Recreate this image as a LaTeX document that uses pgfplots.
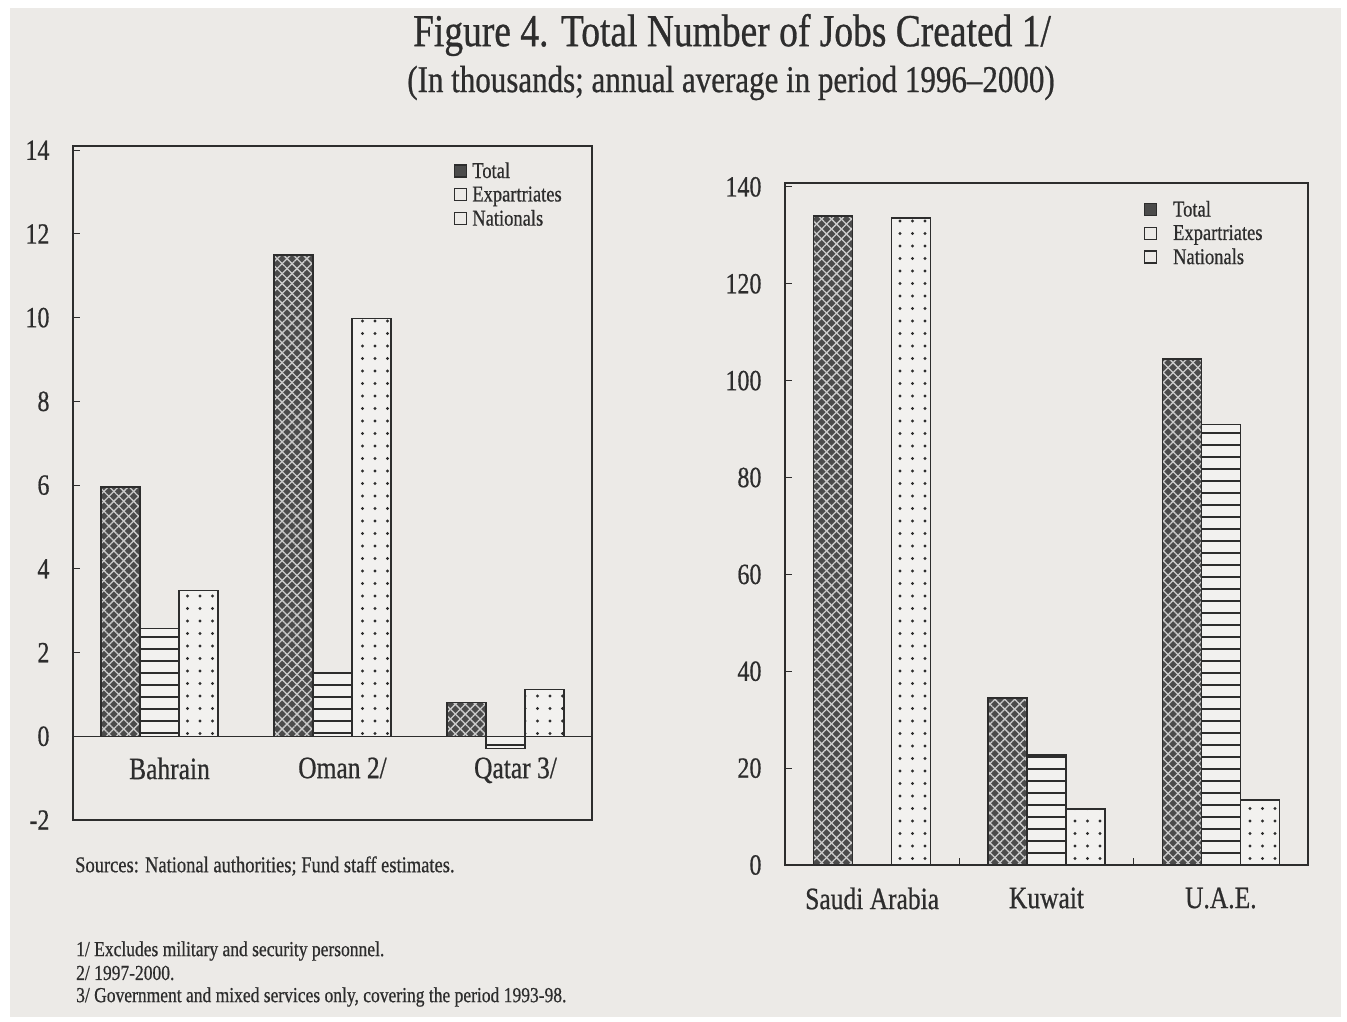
\documentclass[border=0pt]{standalone}
\usepackage{pgfplots}
\pgfplotsset{compat=1.18}
\usepackage{fontspec}
\setmainfont{Liberation Serif}[UprightFeatures={FakeBold=0.7}]
\usetikzlibrary{patterns.meta}
\usepackage{graphicx}

\definecolor{paper}{RGB}{236,234,231}
\definecolor{ink}{RGB}{45,45,45}
\definecolor{totfill}{RGB}{75,75,75}
\definecolor{barbg}{RGB}{242,241,239}

\newcommand{\vs}[1]{\scalebox{1}[1.22]{#1}}
\makeatletter
\tikzset{nopost/.code={\def\tikz@postactions{}}}
\makeatother

\pgfplotsset{
  totstyle/.style={fill=totfill, draw=ink, line width=1.4pt,
    postaction={pattern={Lines[angle=45,distance=7pt,line width=1.3pt]}, pattern color=black!20},
    postaction={pattern={Lines[angle=-45,distance=7pt,line width=1.3pt]}, pattern color=black!20},
    /tikz/legsq/.style={fill=totfill}},
  expstyle/.style={fill=barbg, draw=ink, line width=1.4pt,
    postaction={pattern={Lines[angle=0,distance=12pt,line width=2.4pt]}, pattern color=ink},
    /tikz/legsq/.style={fill=none}},
  natstyle/.style={fill=barbg, draw=ink, line width=1.4pt,
    postaction={pattern={Dots[distance=12.5pt,radius=1.6pt]}, pattern color=ink},
    /tikz/legsq/.style={fill=none}},
  commonax/.style={
    scale only axis, anchor=south west,
    ybar=0pt, bar width=39pt,
    every axis plot post/.append style={
      legend image code/.code={\draw[nopost,legsq,draw=ink,line width=1.3pt] (0pt,-6pt) rectangle (12pt,6pt);}},
    xmin=-0.5, xmax=2.5,
    axis line style={draw=ink, line width=1.8pt},
    tick align=inside, ytick pos=left, xtick pos=bottom,
    major tick length=7pt, minor tick length=7pt,
    major y tick style={draw=ink, line width=1pt},
    major x tick style={draw=none},
    minor x tick style={draw=ink, line width=1pt},
    yticklabel={\vs{\pgfmathprintnumber[assume math mode=true]{\tick}}},
    yticklabel style={font=\fontsize{24}{24}\selectfont, text=ink, xshift=-20pt},
    xtick={0,1,2},
    xticklabel style={font=\fontsize{25.5}{25.5}\selectfont, text=ink},
    legend style={draw=none, fill=none, font=\fontsize{18.5}{18.5}\selectfont, text=ink,
      anchor=north west, row sep=3pt, cells={anchor=west}},
    legend cell align=left,
  },
}

\begin{document}
\begin{tikzpicture}
\fill[white] (0pt,0pt) rectangle (1347pt,-1021pt);
\fill[paper] (10pt,-8pt) rectangle (1341pt,-1017pt);

% Title
\node[font=\fontsize{37.5}{37.5}\selectfont, text=ink] at (732pt,-35pt) {\vs{Figure 4. Total Number of Jobs Created 1/}};
\node[font=\fontsize{31}{31}\selectfont, text=ink] at (731pt,-83pt) {\vs{(In thousands; annual average in period 1996--2000)}};

% Left panel
\begin{axis}[commonax,
  at={(73pt,-820pt)}, width=519pt, height=674pt,
  ymin=-2, ymax=14.1, ytick={-2,0,2,4,6,8,10,12,14},
  xticklabels={\vs{Bahrain},\vs{Oman 2/},\vs{Qatar 3/}},
  xticklabel style={yshift=66pt, xshift=10pt},
  extra y ticks={0}, extra y tick labels={},
  extra y tick style={grid=major, major grid style={draw=ink, line width=1.5pt}},
  legend style={at={(rel axis cs:0.728,0.982)},
    /tikz/every odd column/.append style={column sep=3pt}},
]
\addplot[totstyle] coordinates {(0,5.95) (1,11.5) (2,0.81)};
\addplot[expstyle] coordinates {(0,2.58) (1,1.53) (2,-0.29)};
\addplot[natstyle] coordinates {(0,3.48) (1,9.98) (2,1.12)};
\legend{\vs{Total},\vs{Expartriates},\vs{Nationals}}
\end{axis}

% Right panel
\begin{axis}[commonax,
  at={(785pt,-865pt)}, width=523pt, height=682pt,
  ymin=0, ymax=140.8, ytick={0,20,40,60,80,100,120,140},
  xticklabels={\vs{Saudi Arabia},\vs{Kuwait},\vs{U.A.E.}},
  xticklabel style={yshift=-19pt},
  minor xtick={0.5,1.5},
  legend style={at={(rel axis cs:0.68,0.98)},
    /tikz/every odd column/.append style={column sep=14pt}},
]
\addplot[totstyle] coordinates {(0,134.0) (1,34.5) (2,104.5)};
\addplot[expstyle] coordinates {(1,22.7) (2,90.9)};
\addplot[natstyle] coordinates {(0,133.6) (1,11.6) (2,13.4)};
\legend{\vs{Total},\vs{Expartriates},\vs{Nationals}}
\end{axis}

% Notes
\node[anchor=west, inner sep=0pt, font=\fontsize{18.5}{18.5}\selectfont, text=ink] at (75pt,-866pt) {\vs{Sources: National authorities; Fund staff estimates.}};
\node[anchor=west, inner sep=0pt, font=\fontsize{17.5}{17.5}\selectfont, text=ink] at (76pt,-951pt) {\vs{1/ Excludes military and security personnel.}};
\node[anchor=west, inner sep=0pt, font=\fontsize{17.5}{17.5}\selectfont, text=ink] at (76pt,-973pt) {\vs{2/ 1997-2000.}};
\node[anchor=west, inner sep=0pt, font=\fontsize{17.5}{17.5}\selectfont, text=ink] at (76pt,-997pt) {\vs{3/ Government and mixed services only, covering the period 1993-98.}};
\end{tikzpicture}
\end{document}
